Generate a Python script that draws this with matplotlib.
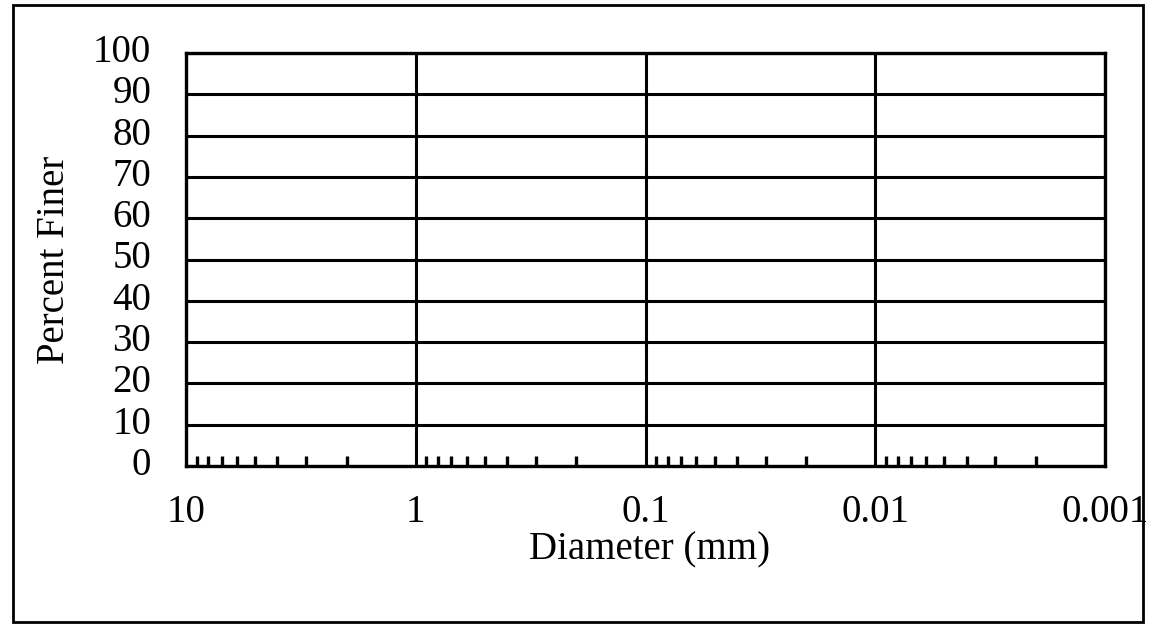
import matplotlib
matplotlib.use("Agg")
import matplotlib.pyplot as plt
from matplotlib.patches import Rectangle
from matplotlib.ticker import FixedLocator, LogLocator, NullFormatter
import matplotlib.transforms as mtransforms

# Data (empty grain-size chart: axis definitions only)
x_ticks = [10, 1, 0.1, 0.01, 0.001]
x_tick_labels = ["10", "1", "0.1", "0.01", "0.001"]
y_ticks = [0, 10, 20, 30, 40, 50, 60, 70, 80, 90, 100]
y_tick_labels = [str(v) for v in y_ticks]
x_label = "Diameter (mm)"
y_label = "Percent Finer"

plt.rcParams["font.family"] = ["Liberation Serif", "DejaVu Serif"]

W, H = 1149, 627
fig = plt.figure(figsize=(W / 100, H / 100), dpi=100)
L, R, T, B = 186, 1105, 53, 466
ax = fig.add_axes([L / W, 1 - B / H, (R - L) / W, (B - T) / H])

ax.set_xscale("log")
ax.set_xlim(max(x_ticks), min(x_ticks))
ax.set_ylim(min(y_ticks), max(y_ticks))

ax.xaxis.set_major_locator(FixedLocator(x_ticks))
ax.set_xticks(x_ticks)
ax.set_xticklabels(x_tick_labels)
ax.xaxis.set_minor_locator(LogLocator(base=10, subs=range(2, 10)))
ax.xaxis.set_minor_formatter(NullFormatter())
ax.set_yticks(y_ticks)
ax.set_yticklabels(y_tick_labels)

fs = 28
ax.tick_params(axis="both", which="major", length=0, labelsize=fs, colors="black")
ax.tick_params(axis="x", which="major", pad=20)
ax.tick_params(axis="y", which="major", pad=25)
ax.tick_params(axis="x", which="minor", direction="in", length=7, width=2.4,
               bottom=True, top=False, color="black")
ax.tick_params(axis="y", which="minor", left=False, right=False)

# shift y tick labels slightly upward as in reference
off = mtransforms.ScaledTranslation(0, 5 / 100, fig.dpi_scale_trans)
for lbl in ax.get_yticklabels():
    lbl.set_transform(lbl.get_transform() + off)

ax.grid(True, which="major", color="black", linewidth=2.2)
ax.set_axisbelow(False)
for sp in ax.spines.values():
    sp.set_linewidth(2.4)
    sp.set_color("black")

ax.set_xlabel(x_label, fontsize=fs)
ax.xaxis.set_label_coords((650 - L) / (R - L), (B - 550) / (B - T))
ax.xaxis.label.set_va("center")
ax.set_ylabel(y_label, fontsize=fs)
ax.yaxis.set_label_coords((55 - L) / (R - L), 0.5)
ax.yaxis.label.set_va("center")

# figure border
fig.patches.append(Rectangle((13 / W, 1 - 622 / H), (1143 - 13) / W, (622 - 5) / H,
                             transform=fig.transFigure, fill=False,
                             edgecolor="black", linewidth=2.0))

fig.savefig("out.png", dpi=100)
